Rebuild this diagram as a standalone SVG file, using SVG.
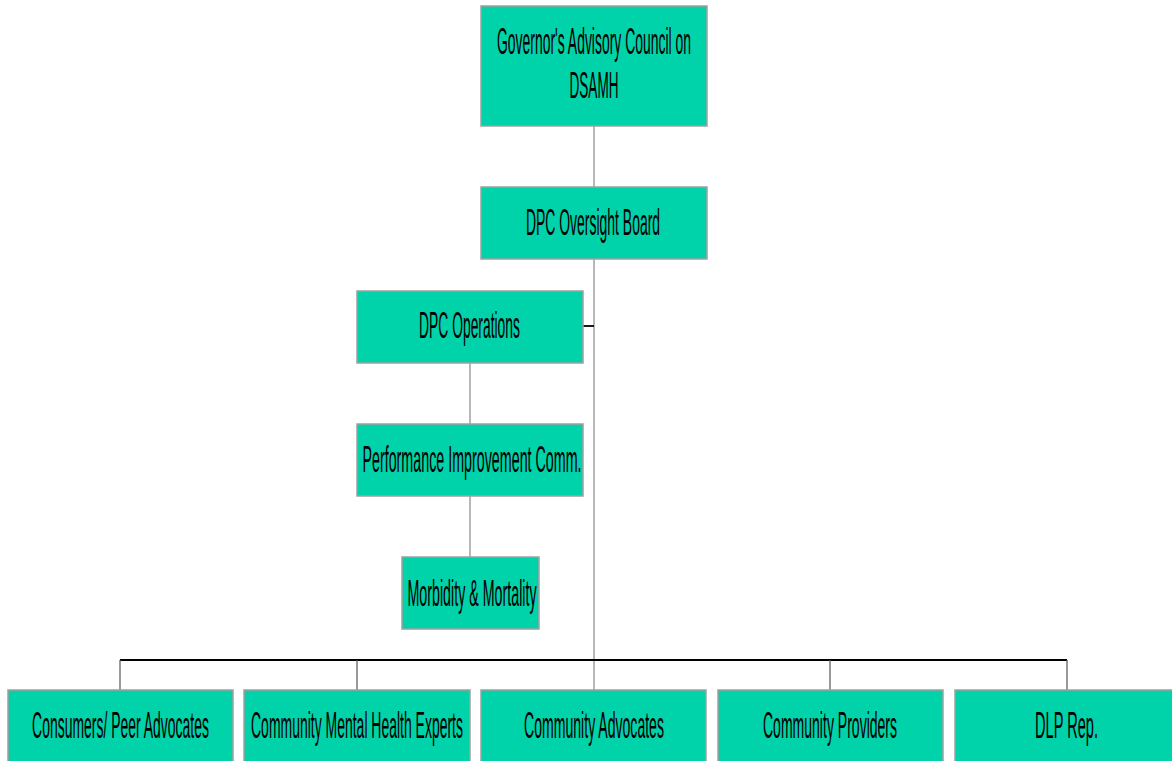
<svg xmlns="http://www.w3.org/2000/svg" width="1172" height="761" viewBox="0 0 1172 761">
<style>
.box{fill:#00d2aa;stroke:#a0a0a0;stroke-width:1.5}
.t{font-family:"Liberation Sans",Arial,sans-serif;font-size:36px;fill:#000;text-anchor:middle}
.g{stroke:#a0a0a0;stroke-width:1.5;fill:none}
.d{stroke:#555;stroke-width:1.2;fill:none}
.k{stroke:#000;stroke-width:1.8;fill:none}
</style>
<rect width="1172" height="761" fill="#fff"/>
<g id="connectors">
<line class="g" x1="594" y1="126" x2="594" y2="187"/>
<line class="g" x1="594" y1="259" x2="594" y2="690"/>
<line class="k" x1="583" y1="326" x2="594" y2="326"/>
<line class="g" x1="470" y1="363" x2="470" y2="424"/>
<line class="g" x1="470" y1="496" x2="470" y2="557"/>
<line class="k" x1="120" y1="660" x2="1067" y2="660"/>
<line class="d" x1="120" y1="660" x2="120" y2="690"/>
<line class="d" x1="357" y1="660" x2="357" y2="690"/>
<line class="d" x1="830" y1="660" x2="830" y2="690"/>
<line class="d" x1="1067" y1="660" x2="1067" y2="690"/>
</g>
<g id="n-governor">
<rect class="box" x="481" y="6" width="226" height="120"/>
<g transform="translate(594,54) scale(0.45,1)"><text class="t" x="0" y="0" textLength="431" lengthAdjust="spacingAndGlyphs">Governor's Advisory Council on</text></g>
<g transform="translate(594,98) scale(0.45,1)"><text class="t" x="0" y="0" textLength="109" lengthAdjust="spacingAndGlyphs">DSAMH</text></g>
</g>
<g id="n-oversight">
<rect class="box" x="481" y="187" width="226" height="72"/>
<g transform="translate(593,235) scale(0.45,1)"><text class="t" x="0" y="0" textLength="298" lengthAdjust="spacingAndGlyphs">DPC Oversight Board</text></g>
</g>
<g id="n-operations">
<rect class="box" x="357" y="291" width="226" height="72"/>
<g transform="translate(469.5,338) scale(0.45,1)"><text class="t" x="0" y="0" textLength="224" lengthAdjust="spacingAndGlyphs">DPC Operations</text></g>
</g>
<g id="n-pic">
<rect class="box" x="357" y="424" width="226" height="72"/>
<g transform="translate(472,472) scale(0.45,1)"><text class="t" x="0" y="0" textLength="487" lengthAdjust="spacingAndGlyphs">Performance Improvement Comm.</text></g>
</g>
<g id="n-mm">
<rect class="box" x="402" y="557" width="137" height="72"/>
<g transform="translate(472,606) scale(0.45,1)"><text class="t" x="0" y="0" textLength="287" lengthAdjust="spacingAndGlyphs">Morbidity &amp; Mortality</text></g>
</g>
<g id="n-consumers">
<rect class="box" x="8" y="690" width="225" height="75"/>
<g transform="translate(120.5,738) scale(0.45,1)"><text class="t" x="0" y="0" textLength="393" lengthAdjust="spacingAndGlyphs">Consumers/ Peer Advocates</text></g>
</g>
<g id="n-cmhe">
<rect class="box" x="244" y="690" width="226" height="75"/>
<g transform="translate(357,738) scale(0.45,1)"><text class="t" x="0" y="0" textLength="471" lengthAdjust="spacingAndGlyphs">Community Mental Health Experts</text></g>
</g>
<g id="n-advocates">
<rect class="box" x="481" y="690" width="225" height="75"/>
<g transform="translate(594,738) scale(0.45,1)"><text class="t" x="0" y="0" textLength="311" lengthAdjust="spacingAndGlyphs">Community Advocates</text></g>
</g>
<g id="n-providers">
<rect class="box" x="718" y="690" width="225" height="75"/>
<g transform="translate(830,738) scale(0.45,1)"><text class="t" x="0" y="0" textLength="298" lengthAdjust="spacingAndGlyphs">Community Providers</text></g>
</g>
<g id="n-dlp">
<rect class="box" x="955" y="690" width="225" height="75"/>
<g transform="translate(1066.5,738) scale(0.45,1)"><text class="t" x="0" y="0" textLength="140" lengthAdjust="spacingAndGlyphs">DLP Rep.</text></g>
</g>
</svg>
